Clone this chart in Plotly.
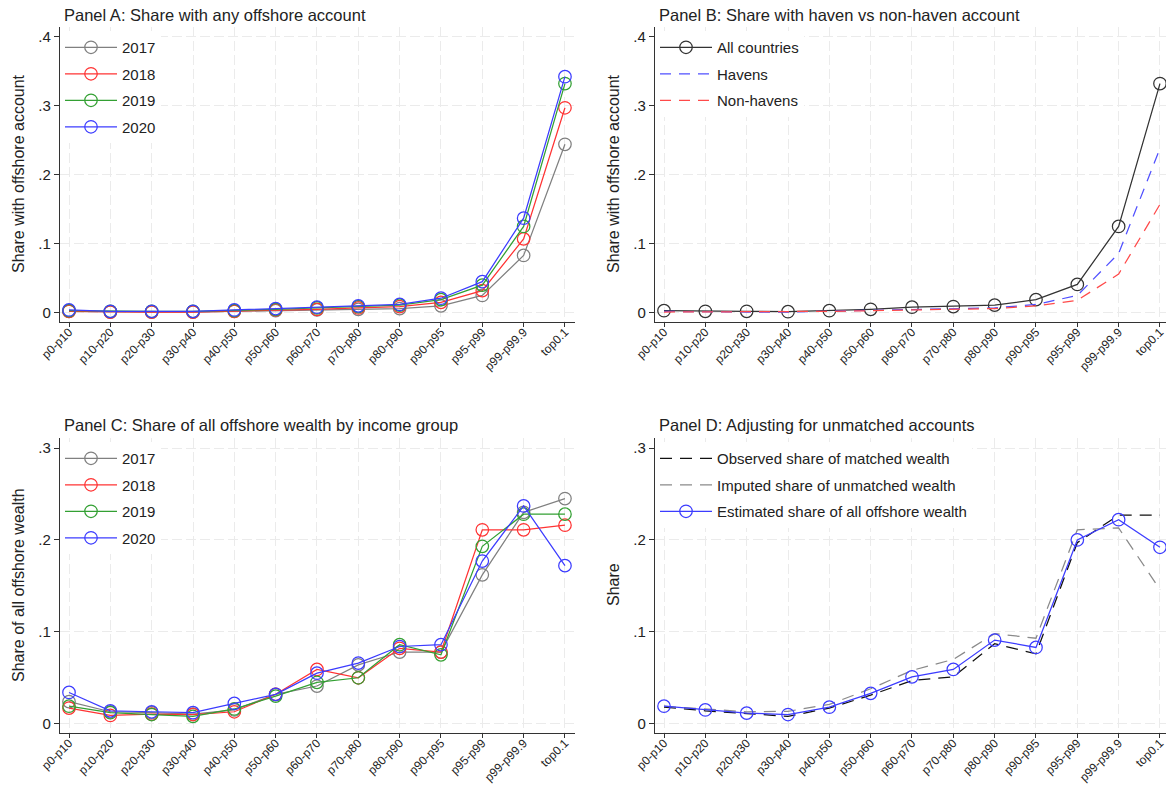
import plotly.graph_objects as go

# Income groups on the horizontal axis
categories = ["p0-p10", "p10-p20", "p20-p30", "p30-p40", "p40-p50", "p50-p60",
              "p60-p70", "p70-p80", "p80-p90", "p90-p95", "p95-p99",
              "p99-p99.9", "top0.1"]

# Panel A: share with any offshore account, by year
any_2017 = [0.002, 0.001, 0.001, 0.001, 0.002, 0.003, 0.004, 0.005, 0.006, 0.010, 0.025, 0.083, 0.244]
any_2018 = [0.002, 0.001, 0.001, 0.001, 0.002, 0.004, 0.005, 0.007, 0.009, 0.015, 0.032, 0.107, 0.297]
any_2019 = [0.003, 0.002, 0.002, 0.002, 0.003, 0.005, 0.007, 0.009, 0.011, 0.019, 0.040, 0.125, 0.332]
any_2020 = [0.004, 0.002, 0.002, 0.002, 0.004, 0.006, 0.008, 0.010, 0.012, 0.021, 0.045, 0.137, 0.342]

# Panel B: haven vs non-haven accounts
all_countries = [0.003, 0.002, 0.002, 0.0015, 0.003, 0.005, 0.008, 0.009, 0.011, 0.019, 0.041, 0.125, 0.332]
havens = [0.002, 0.001, 0.001, 0.001, 0.002, 0.003, 0.004, 0.005, 0.007, 0.012, 0.025, 0.086, 0.238]
non_havens = [0.001, 0.001, 0.001, 0.001, 0.002, 0.003, 0.004, 0.004, 0.006, 0.010, 0.018, 0.056, 0.157]

# Panel C: share of all offshore wealth, by year
wealth_2017 = [0.024, 0.013, 0.012, 0.0105, 0.015, 0.032, 0.041, 0.064, 0.078, 0.078, 0.162, 0.230, 0.245]
wealth_2018 = [0.017, 0.009, 0.0105, 0.010, 0.013, 0.032, 0.059, 0.050, 0.082, 0.078, 0.211, 0.211, 0.216]
wealth_2019 = [0.019, 0.012, 0.010, 0.008, 0.016, 0.030, 0.045, 0.050, 0.086, 0.075, 0.193, 0.228, 0.228]
wealth_2020 = [0.034, 0.014, 0.013, 0.012, 0.022, 0.032, 0.055, 0.066, 0.084, 0.086, 0.177, 0.237, 0.172]

# Panel D: adjusting for unmatched accounts
observed = [0.018, 0.014, 0.011, 0.008, 0.017, 0.031, 0.047, 0.051, 0.087, 0.076, 0.197, 0.227, 0.227]
imputed = [0.019, 0.016, 0.013, 0.0135, 0.021, 0.038, 0.058, 0.070, 0.098, 0.093, 0.211, 0.213, 0.146]
estimated = [0.019, 0.015, 0.0115, 0.010, 0.018, 0.033, 0.051, 0.059, 0.091, 0.083, 0.200, 0.222, 0.192]

W, H = 1166, 786
FONT = "Liberation Sans, Arial, sans-serif"
GRAY, RED, GREEN, BLUE = "#808080", "#ff3333", "#33a033", "#3c3cff"


def fx(p):
    return p / W


def fy(p):
    return 1 - p / H


fig = go.Figure()


def add_line(x_ax, y_ax, legend, name, y, color, marker=True, dash="solid"):
    fig.add_trace(go.Scatter(
        x=categories, y=y, name=name,
        xaxis=x_ax, yaxis=y_ax, legend=legend, legendgroup=legend + name,
        mode="lines+markers" if marker else "lines",
        line=dict(color=color, width=1.25, dash=dash),
        marker=dict(symbol="circle-open", size=12.5, color=color, line=dict(width=1.25, color=color)),
    ))


for name, vals, col in [("2017", any_2017, GRAY), ("2018", any_2018, RED),
                        ("2019", any_2019, GREEN), ("2020", any_2020, BLUE)]:
    add_line("x", "y", "legend", name, vals, col)

add_line("x2", "y2", "legend2", "All countries", all_countries, "#333333")
add_line("x2", "y2", "legend2", "Havens", havens, "#5050ff", marker=False, dash="11px,8px")
add_line("x2", "y2", "legend2", "Non-havens", non_havens, "#ff4a4a", marker=False, dash="11px,8px")

for name, vals, col in [("2017", wealth_2017, GRAY), ("2018", wealth_2018, RED),
                        ("2019", wealth_2019, GREEN), ("2020", wealth_2020, BLUE)]:
    add_line("x3", "y3", "legend3", name, vals, col)

add_line("x4", "y4", "legend4", "Observed share of matched wealth", observed, "#111111", marker=False, dash="12px,8px")
add_line("x4", "y4", "legend4", "Imputed share of unmatched wealth", imputed, "#8a8a8a", marker=False, dash="12px,8px")
add_line("x4", "y4", "legend4", "Estimated share of all offshore wealth", estimated, BLUE)

AX = "#333333"
x_common = dict(
    type="category", categoryorder="array", categoryarray=categories,
    tickangle=-45, tickfont=dict(size=12, color="#222"), automargin=False,
    ticklabelstandoff=-7,
    showline=True, linecolor=AX, linewidth=1.3,
    ticks="outside", ticklen=4.5, tickcolor=AX, tickwidth=1.2,
    showgrid=True, gridcolor="#ebebeb", gridwidth=1.4, griddash="10px,4px",
    zeroline=False,
)
y_common = dict(
    tickfont=dict(size=15, color="#222"), automargin=False,
    showline=True, linecolor=AX, linewidth=1.3,
    ticks="outside", ticklen=5, tickcolor=AX, tickwidth=1.2,
    showgrid=True, gridcolor="#ebebeb", gridwidth=1.4, griddash="10px,4px",
    zeroline=False,
)

top_ticks = [0, 0.1, 0.2, 0.3, 0.4]
top_text = ["0", ".1", ".2", ".3", ".4"]
bot_ticks = [0, 0.1, 0.2, 0.3]
bot_text = ["0", ".1", ".2", ".3"]

left_dom = [fx(60), fx(575)]
right_dom = [fx(655), 1.0]
top_dom = [fy(321.7), fy(27)]
bot_dom = [fy(732.7), fy(438)]
left_rng = [-0.218, 12.243]
right_rng = [-0.218, 12.146]

fig.update_layout(
    width=W, height=H,
    margin=dict(l=0, r=0, t=0, b=0, autoexpand=False),
    paper_bgcolor="white", plot_bgcolor="white",
    font=dict(family=FONT, color="#222"),
    xaxis=dict(x_common, domain=left_dom, range=left_rng, anchor="y"),
    yaxis=dict(y_common, domain=top_dom, range=[-0.013, 0.414], tickvals=top_ticks, ticktext=top_text, anchor="x"),
    xaxis2=dict(x_common, domain=right_dom, range=right_rng, anchor="y2"),
    yaxis2=dict(y_common, domain=top_dom, range=[-0.013, 0.414], tickvals=top_ticks, ticktext=top_text, anchor="x2"),
    xaxis3=dict(x_common, domain=left_dom, range=left_rng, anchor="y3"),
    yaxis3=dict(y_common, domain=bot_dom, range=[-0.0098, 0.3109], tickvals=bot_ticks, ticktext=bot_text, anchor="x3"),
    xaxis4=dict(x_common, domain=right_dom, range=right_rng, anchor="y4"),
    yaxis4=dict(y_common, domain=bot_dom, range=[-0.0098, 0.3109], tickvals=bot_ticks, ticktext=bot_text, anchor="x4"),
)

legend_common = dict(
    xanchor="left", yanchor="top", bgcolor="white", borderwidth=0,
    font=dict(size=15, family=FONT, color="#222"),
    tracegroupgap=4, itemwidth=52, traceorder="grouped",
)
fig.update_layout(
    legend=dict(legend_common, x=fx(60), y=fy(31)),
    legend2=dict(legend_common, x=fx(655), y=fy(31)),
    legend3=dict(legend_common, x=fx(60), y=fy(442)),
    legend4=dict(legend_common, x=fx(655), y=fy(442)),
)

# Panel titles
titles = [("Panel A: Share with any offshore account", 62, 15),
          ("Panel B: Share with haven vs non-haven account", 657, 15),
          ("Panel C: Share of all offshore wealth by income group", 62, 425),
          ("Panel D: Adjusting for unmatched accounts", 657, 425)]
for text, px, py in titles:
    fig.add_annotation(text=text, x=fx(px), y=fy(py), xref="paper", yref="paper",
                       xanchor="left", yanchor="middle", showarrow=False,
                       font=dict(size=16.5, family=FONT, color="#222"))

# Vertical axis titles
ytitles = [("Share with offshore account", 18, 174),
           ("Share with offshore account", 613, 174),
           ("Share of all offshore wealth", 18, 585),
           ("Share", 613, 585)]
for text, px, py in ytitles:
    fig.add_annotation(text=text, x=fx(px), y=fy(py), xref="paper", yref="paper",
                       xanchor="center", yanchor="middle", textangle=-90, showarrow=False,
                       font=dict(size=16, family=FONT, color="#222"))

fig.write_html("out.html")
